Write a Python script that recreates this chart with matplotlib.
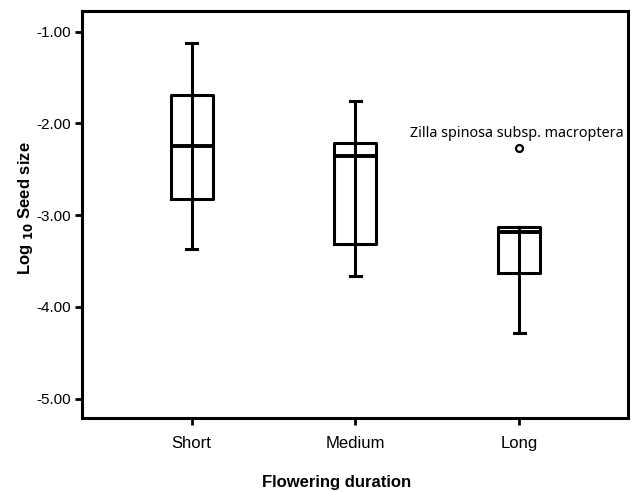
import matplotlib
matplotlib.use('Agg')
from matplotlib import pyplot as plt

# box plot values (log10 seed size)
groups = ['Short', 'Medium', 'Long']
whislo = [-3.37, -3.66, -4.28]
q1 = [-2.82, -3.31, -3.63]
med = [-2.25, -2.36, -3.18]
q3 = [-1.69, -2.22, -3.135]
whishi = [-1.12, -1.757, -3.135]
outliers = [[], [], [-2.27]]
outlier_name = 'Zilla spinosa subsp. macroptera'

yticks = [-1.0, -2.0, -3.0, -4.0, -5.0]

plt.rcParams['font.family'] = ['Liberation Sans', 'DejaVu Sans']

fig = plt.figure(figsize=(6.4, 4.92), dpi=100)
ax = fig.add_axes([0.128, 0.150, 0.853, 0.828])

stats = []
for i in range(len(groups)):
    stats.append({'label': groups[i], 'whislo': whislo[i], 'q1': q1[i], 'med': med[i],
                  'q3': q3[i], 'whishi': whishi[i], 'fliers': outliers[i]})

lw = 2.2
pos = [1, 2, 3]
ax.bxp(stats, positions=pos, widths=0.256, capwidths=0.065, showfliers=True,
       boxprops=dict(color='black', linewidth=lw),
       medianprops=dict(color='black', linewidth=lw + 0.6),
       whiskerprops=dict(color='black', linewidth=lw),
       capprops=dict(color='black', linewidth=lw),
       flierprops=dict(marker='o', markersize=5, markerfacecolor='white',
                       markeredgecolor='black', markeredgewidth=1.6))

# the whisker line passes through the box in the original
for i in range(len(groups)):
    ax.plot([pos[i], pos[i]], [q1[i], q3[i]], color='black', linewidth=lw, zorder=3)

ax.text(2.985, outliers[2][0] + 0.075, outlier_name, ha='center', va='bottom',
        fontsize=10.3, family=['Noto Sans', 'DejaVu Sans'])

ax.set_xlim(0.331, 3.663)
ax.set_ylim(-5.214, -0.774)
ax.set_yticks(yticks)
ax.set_yticklabels([f'{v:.2f}' for v in yticks])
ax.set_xticks(pos)
ax.set_xticklabels(groups)
ax.tick_params(axis='both', width=2, length=5, direction='out', color='black')
ax.tick_params(axis='y', pad=3, labelsize=11)
ax.tick_params(axis='x', pad=8, labelsize=12)

for s in ax.spines.values():
    s.set_linewidth(2.2)

ax.set_xlabel('Flowering duration', fontsize=12, fontweight='bold')
ax.xaxis.set_label_coords(0.466, -0.14)
ax.set_ylabel(r'Log $_{\mathbf{10}}$ Seed size', fontsize=12, fontweight='bold')
ax.yaxis.set_label_coords(-0.086, 0.515)

fig.savefig('out.png', dpi=100)
